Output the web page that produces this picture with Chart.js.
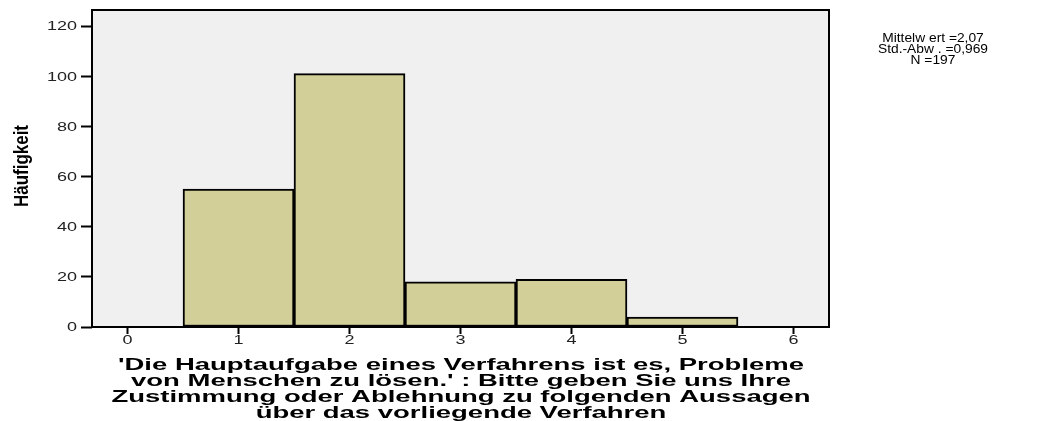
<!DOCTYPE html>
<html>
<head>
<meta charset="utf-8">
<script src="https://cdn.jsdelivr.net/npm/chart.js@4"></script>
<style>
  body { margin: 0; background: #fff; }
  #wrap { width: 1047px; height: 421px; }
</style>
</head>
<body>
<div id="wrap"><canvas id="chart"></canvas></div>
<script>
// histogram data, bins centred on the answer values
const binCenters = [1, 2, 3, 4, 5];
const counts = [55, 101, 18, 19, 4];
const xTicks = [0, 1, 2, 3, 4, 5, 6];
const yTicks = [0, 20, 40, 60, 80, 100, 120];
const statLines = ["Mittelw ert =2,07", "Std.-Abw . =0,969", "N =197"];
const xTitle = [
  "'Die Hauptaufgabe eines Verfahrens ist es, Probleme",
  "von Menschen zu lösen.' : Bitte geben Sie uns Ihre",
  "Zustimmung oder Ablehnung zu folgenden Aussagen",
  "über das vorliegende Verfahren"
];
const yTitle = "Häufigkeit";

const font = "'Liberation Sans', Arial, sans-serif";

// SPSS output text is horizontally stretched, so draw it by hand
function stretchText(ctx, text, x, y, sx) {
  ctx.save();
  ctx.translate(x, y);
  ctx.scale(sx, 1);
  ctx.fillText(text, 0, 0);
  ctx.restore();
}

const frame = {
  id: "frame",
  beforeDraw(chart) {
    const { ctx, chartArea: a } = chart;
    ctx.save();
    ctx.fillStyle = "#f0f0f0";
    ctx.fillRect(a.left, a.top, a.right - a.left, a.bottom - a.top);
    ctx.restore();
  },
  afterDraw(chart) {
    const { ctx, chartArea: a, scales } = chart;
    ctx.save();
    ctx.strokeStyle = "#000";
    ctx.lineWidth = 2;
    ctx.strokeRect(a.left, a.top, a.right - a.left, a.bottom - a.top);

    // tick labels
    ctx.fillStyle = "#222";
    ctx.font = "12px " + font;
    ctx.textBaseline = "middle";
    ctx.textAlign = "right";
    yTicks.forEach(v => stretchText(ctx, String(v), 77, scales.y.getPixelForValue(v) + 1, 1.5));
    ctx.textAlign = "center";
    xTicks.forEach(v => stretchText(ctx, String(v), scales.x.getPixelForValue(v), 341, 1.5));

    // x title
    ctx.fillStyle = "#000";
    ctx.font = "bold 17px " + font;
    const sx = 686 / ctx.measureText(xTitle[0]).width;
    xTitle.forEach((t, i) => stretchText(ctx, t, 461, 365 + i * 16, sx));

    // stats box
    ctx.font = "13px " + font;
    const ss = 110 / ctx.measureText(statLines[1]).width;
    statLines.forEach((t, i) => stretchText(ctx, t, 933, 38 + i * 11, ss));

    // rotated y title, condensed bold
    ctx.font = "bold 20px " + font;
    const ys = 82 / ctx.measureText(yTitle).width;
    ctx.translate(22, 166);
    ctx.rotate(-Math.PI / 2);
    ctx.scale(ys, 1);
    ctx.fillText(yTitle, 0, 0);
    ctx.restore();
  }
};

new Chart(document.getElementById("chart"), {
  type: "bar",
  data: {
    datasets: [{
      data: binCenters.map((c, i) => ({ x: c, y: counts[i] })),
      backgroundColor: "#d3cf98",
      borderColor: "#000",
      borderWidth: 2,
      borderSkipped: false,
      barPercentage: 1,
      categoryPercentage: 1
    }]
  },
  options: {
    responsive: true,
    maintainAspectRatio: false,
    animation: false,
    layout: { padding: { top: 10, right: 218, left: 0, bottom: 0 } },
    plugins: { legend: { display: false }, tooltip: { enabled: false } },
    scales: {
      x: {
        type: "linear",
        offset: false,
        min: -0.32,
        max: 6.32,
        border: { display: false },
        grid: { offset: false, drawOnChartArea: false, tickLength: 7, tickWidth: 2, tickColor: "#000" },
        afterBuildTicks: s => { s.ticks = xTicks.map(v => ({ value: v })); },
        ticks: { includeBounds: false, display: false },
        afterFit: s => { s.height = 94; }
      },
      y: {
        min: 0,
        max: 126.4,
        border: { display: false },
        grid: { drawOnChartArea: false, tickLength: 11, tickWidth: 2, tickColor: "#000" },
        afterBuildTicks: s => { s.ticks = yTicks.map(v => ({ value: v })); },
        ticks: { includeBounds: false, display: false },
        afterFit: s => { s.width = 92; }
      }
    }
  },
  plugins: [frame]
});
</script>
</body>
</html>
